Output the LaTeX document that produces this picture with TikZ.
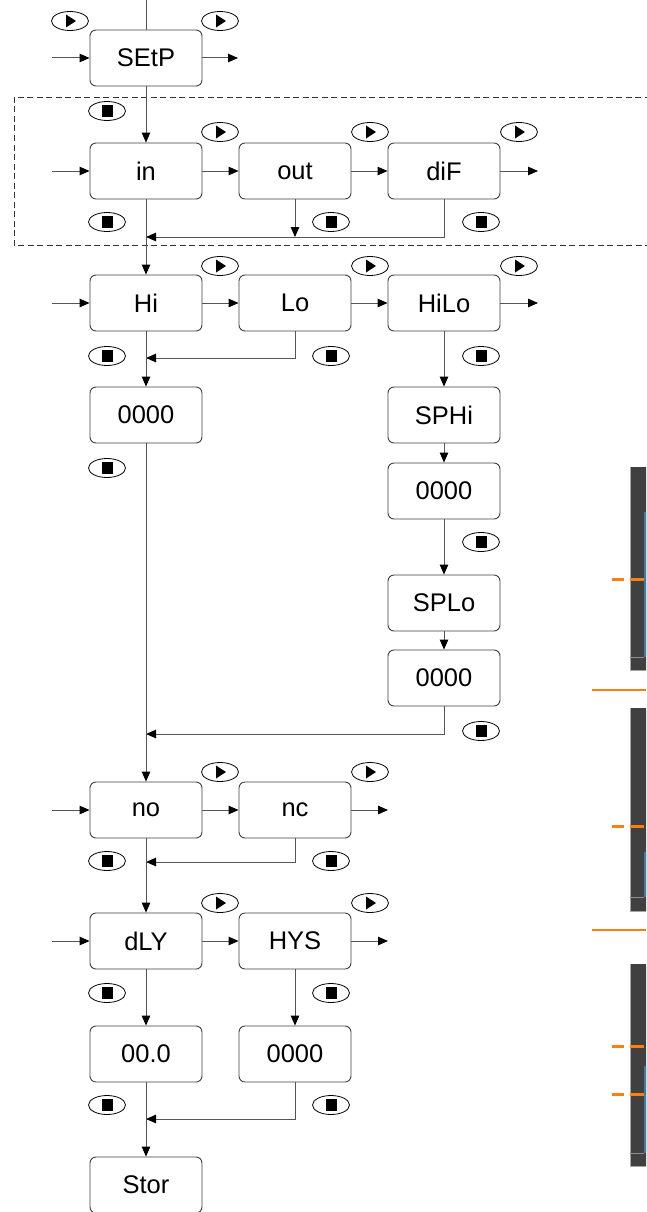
\documentclass[tikz,border=0pt]{standalone}
\usepackage{fontspec}
\setmainfont{Liberation Sans}
\usetikzlibrary{arrows.meta,shapes.geometric}
\definecolor{linegray}{HTML}{555555}
\definecolor{bargray}{HTML}{404040}
\definecolor{barblue}{HTML}{3E7CA4}
\definecolor{barorange}{HTML}{FF7F0E}
\begin{document}
\begin{tikzpicture}[x=1pt,y=-1pt,
  menubox/.style={draw=black!75,line width=0.9pt,rounded corners=6pt,minimum width=112pt,minimum height=56pt,inner sep=0pt,font=\fontsize{25.5}{30}\selectfont},
  conn/.style={draw=linegray,line width=1pt},
  arr/.style={conn,-{Triangle[length=10pt,width=8.5pt,color=black]}},
  btn/.style={draw=black,line width=0.8pt,ellipse,minimum width=37pt,minimum height=19pt,inner sep=0pt},
  playbtn/.style={btn,path picture={\fill[black] ([xshift=-4pt,yshift=6.5pt]path picture bounding box.center) -- ([xshift=-4pt,yshift=-6.5pt]path picture bounding box.center) -- ([xshift=6pt]path picture bounding box.center) -- cycle;}},
  stopbtn/.style={btn,path picture={\fill[black] ([xshift=-5.5pt,yshift=-6pt]path picture bounding box.center) rectangle ([xshift=5.5pt,yshift=6pt]path picture bounding box.center);}},
  tick/.style={draw=barorange,line width=3pt},
  sep/.style={draw=barorange,line width=2pt}
]
\useasboundingbox (0,0) rectangle (646,1212);
\fill[white] (0,0) rectangle (646,1212);

% dashed group
\draw[dash pattern=on 6pt off 3.5pt,line width=0.8pt,black!80] (660,97) -- (14,97) -- (14,245) -- (660,245);

% boxes
\node[menubox] (setp) at (146,58) {SEtP};
\node[menubox] (in) at (146,171) {in};
\node[menubox] (out) at (295,171) {out};
\node[menubox] (dif) at (444,171) {diF};
\node[menubox] (hi) at (146,303) {Hi};
\node[menubox] (lo) at (295,303) {Lo};
\node[menubox] (hilo) at (444,303) {HiLo};
\node[menubox] (vA) at (146,415) {0000};
\node[menubox] (sphi) at (444,415) {SPHi};
\node[menubox] (vB) at (444,491) {0000};
\node[menubox] (splo) at (444,603) {SPLo};
\node[menubox] (vC) at (444,678) {0000};
\node[menubox] (no) at (146,810) {no};
\node[menubox] (nc) at (295,810) {nc};
\node[menubox] (dly) at (146,941) {dLY};
\node[menubox] (hys) at (295,941) {HYS};
\node[menubox] (vD) at (146,1054) {00.0};
\node[menubox] (vE) at (295,1054) {0000};
\node[menubox] (stor) at (146,1185) {Stor};

% free ends
\coordinate (top) at (146,0);
\coordinate (e1) at (52,58);  \coordinate (x1) at (238,58);
\coordinate (e2) at (52,171); \coordinate (x2) at (538,171);
\coordinate (e3) at (52,303); \coordinate (x3) at (538,303);
\coordinate (e4) at (52,810); \coordinate (x4) at (388,810);
\coordinate (e5) at (52,941); \coordinate (x5) at (388,941);
\coordinate (f1) at (146,237); \coordinate (f1o) at (295,237);
\coordinate (f2) at (146,358);
\coordinate (f3) at (146,734);
\coordinate (f4) at (146,862);
\coordinate (f5) at (146,1119);

% connectors
\draw[conn] (top) -- (setp.north);
\draw[arr] (e1) -- (setp.west);
\draw[arr] (setp.east) -- (x1);
\draw[arr] (setp.south) -- (in.north);
\draw[arr] (e2) -- (in.west);
\draw[arr] (in) -- (out);
\draw[arr] (out) -- (dif);
\draw[arr] (dif.east) -- (x2);
\draw[arr] (out.south) -- (f1o);
\draw[arr] (dif.south) |- (f1);
\draw[arr] (in.south) -- (hi.north);
\draw[arr] (e3) -- (hi.west);
\draw[arr] (hi) -- (lo);
\draw[arr] (lo) -- (hilo);
\draw[arr] (hilo.east) -- (x3);
\draw[arr] (lo.south) |- (f2);
\draw[arr] (hi.south) -- (vA.north);
\draw[arr] (hilo) -- (sphi);
\draw[arr] (sphi) -- (vB);
\draw[arr] (vB) -- (splo);
\draw[arr] (splo) -- (vC);
\draw[arr] (vC.south) |- (f3);
\draw[arr] (vA.south) -- (no.north);
\draw[arr] (e4) -- (no.west);
\draw[arr] (no) -- (nc);
\draw[arr] (nc.east) -- (x4);
\draw[arr] (nc.south) |- (f4);
\draw[arr] (no.south) -- (dly.north);
\draw[arr] (e5) -- (dly.west);
\draw[arr] (dly) -- (hys);
\draw[arr] (hys.east) -- (x5);
\draw[arr] (dly) -- (vD);
\draw[arr] (hys) -- (vE);
\draw[arr] (vE.south) |- (f5);
\draw[arr] (vD) -- (stor);

% buttons
\node[playbtn] (p1) at (70,21) {};
\node[playbtn] (p2) at (220,21) {};
\node[stopbtn] (s1) at (107,111) {};
\node[playbtn] (p3) at (220,132) {};
\node[playbtn] (p4) at (370,132) {};
\node[playbtn] (p5) at (519,132) {};
\node[stopbtn] (s2) at (107,222) {};
\node[stopbtn] (s3) at (331,222) {};
\node[stopbtn] (s4) at (481,222) {};
\node[playbtn] (p6) at (220,266) {};
\node[playbtn] (p7) at (370,266) {};
\node[playbtn] (p8) at (519,266) {};
\node[stopbtn] (s5) at (107,356) {};
\node[stopbtn] (s6) at (331,356) {};
\node[stopbtn] (s7) at (481,356) {};
\node[stopbtn] (s8) at (107,468) {};
\node[stopbtn] (s9) at (481,542) {};
\node[stopbtn] (s10) at (481,731) {};
\node[playbtn] (p9) at (220,772) {};
\node[playbtn] (p10) at (370,772) {};
\node[stopbtn] (s11) at (107,861) {};
\node[stopbtn] (s12) at (331,861) {};
\node[playbtn] (p11) at (220,903) {};
\node[playbtn] (p12) at (370,903) {};
\node[stopbtn] (s13) at (107,993) {};
\node[stopbtn] (s14) at (331,993) {};
\node[stopbtn] (s15) at (107,1105) {};
\node[stopbtn] (s16) at (331,1105) {};

% partial bar graphics at right edge
\begin{scope}
\clip (0,0) rectangle (646,1212);
\fill[bargray] (630,467) rectangle (660,670);
\draw[black!35,line width=0.6pt] (630,467) -- (630,670) -- (660,670);
\fill[barblue] (643.5,512) rectangle (660,657);
\draw[black!45,line width=0.6pt] (630,657) -- (643.5,657);
\draw[tick] (612,579) -- (624,579);
\draw[tick] (630,579) -- (643.5,579);
\draw[sep] (592,690) -- (646,690);

\fill[bargray] (630,708) rectangle (660,911);
\draw[black!35,line width=0.6pt] (630,708) -- (630,911) -- (660,911);
\fill[barblue] (643.5,852) rectangle (660,897);
\draw[black!45,line width=0.6pt] (630,897) -- (643.5,897);
\draw[tick] (612,826) -- (624,826);
\draw[tick] (630,826) -- (643.5,826);
\draw[sep] (592,930) -- (646,930);

\fill[bargray] (630,964) rectangle (660,1166);
\draw[black!35,line width=0.6pt] (630,964) -- (630,1166) -- (660,1166);
\fill[barblue] (643.5,1066) rectangle (660,1153);
\draw[black!45,line width=0.6pt] (630,1153) -- (643.5,1153);
\draw[tick] (612,1046) -- (624,1046);
\draw[tick] (630,1046) -- (643.5,1046);
\draw[tick] (612,1094) -- (624,1094);
\draw[tick] (630,1094) -- (643.5,1094);
\end{scope}
\end{tikzpicture}
\end{document}
